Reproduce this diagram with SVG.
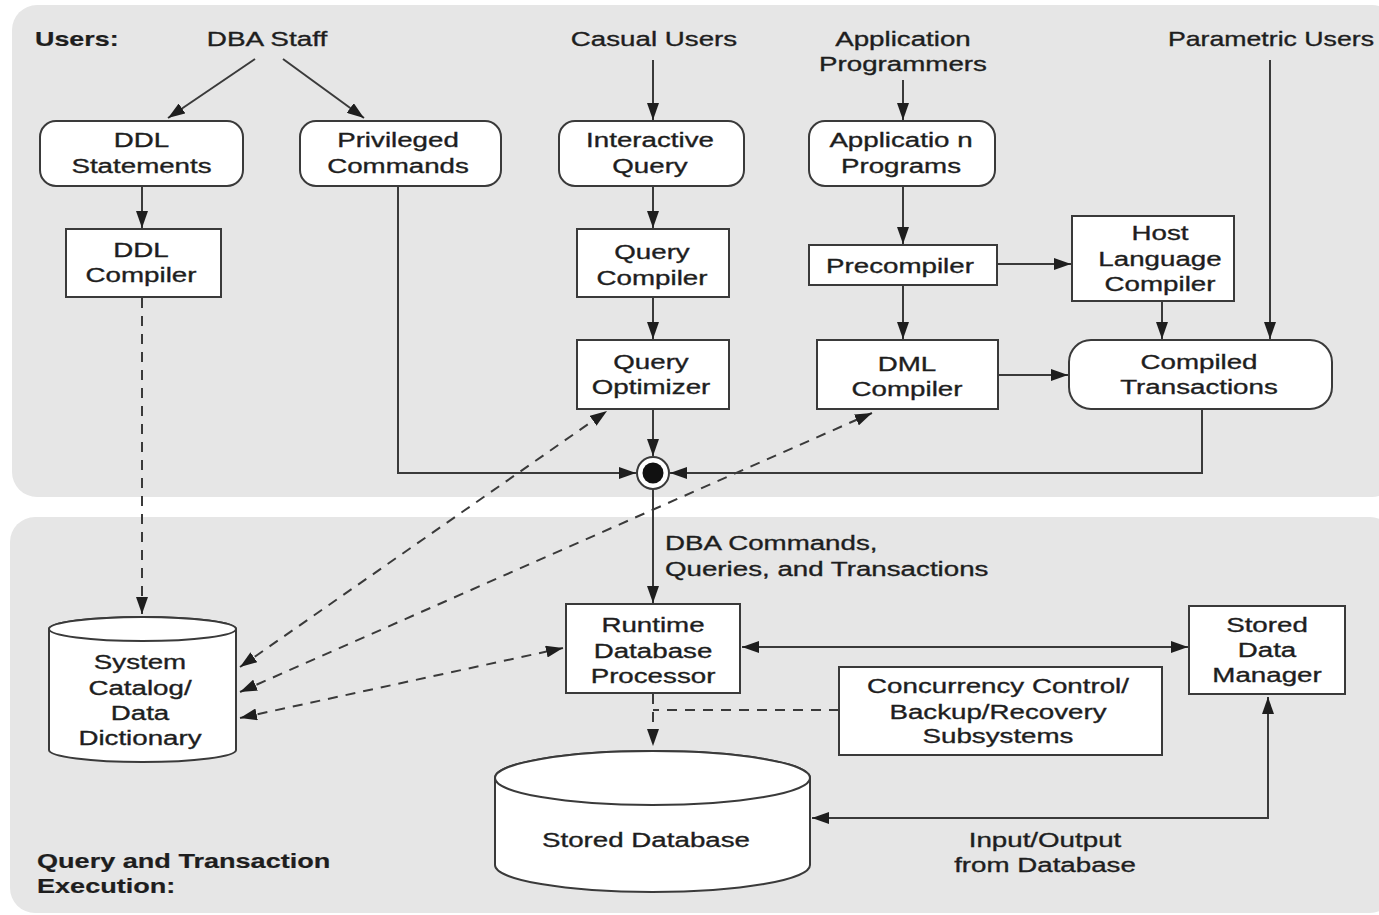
<svg xmlns="http://www.w3.org/2000/svg" width="1379" height="915" viewBox="0 0 1379 915">
<defs>
<style>
.panel{fill:#e6e6e6}
.box{fill:#fff;stroke:#3a3a3a;stroke-width:2}
.ln{fill:none;stroke:#3a3a3a;stroke-width:2}
.dash{fill:none;stroke:#3a3a3a;stroke-width:2;stroke-dasharray:10 8}
.t{font-family:"Liberation Sans",Arial,Helvetica,sans-serif;font-size:21px;fill:#1e1e1e;stroke:#1e1e1e;stroke-width:0.35px;text-anchor:middle}
.l{text-anchor:start}
.b{font-weight:bold;stroke-width:0.2px}
</style>
<marker id="ah" viewBox="0 0 17 12" markerWidth="17" markerHeight="12" refX="17" refY="6" orient="auto-start-reverse" markerUnits="userSpaceOnUse"><path d="M0,0 L17,6 L0,12 z" fill="#1e1e1e"/></marker>
</defs>
<rect width="1379" height="915" fill="#fff"/>
<g id="panels">
<rect class="panel" x="12" y="5" width="1385" height="492" rx="25"/>
<rect class="panel" x="10" y="517" width="1385" height="396" rx="25"/>
</g>
<g id="labels">
<text class="t l b" transform="matrix(1.28 0 0 1 35 46)">Users:</text>
<text class="t" transform="matrix(1.33 0 0 1 267 46)">DBA Staff</text>
<text class="t" transform="matrix(1.32 0 0 1 654 46)">Casual Users</text>
<text class="t" transform="matrix(1.32 0 0 1 903 46)"><tspan x="0" y="0">Application</tspan><tspan x="0" y="25">Programmers</tspan></text>
<text class="t l" transform="matrix(1.27 0 0 1 1168 46)">Parametric Users</text>
<text class="t l" transform="matrix(1.32 0 0 1 665 550)"><tspan x="0" y="0">DBA Commands,</tspan><tspan x="0" y="26">Queries, and Transactions</tspan></text>
<text class="t" transform="matrix(1.32 0 0 1 1045 847)"><tspan x="0" y="0">Input/Output</tspan><tspan x="0" y="25">from Database</tspan></text>
<text class="t l b" transform="matrix(1.29 0 0 1 37 868)"><tspan x="0" y="0">Query and Transaction</tspan><tspan x="0" y="25">Execution:</tspan></text>
</g>
<g id="connectors">
<line class="ln" x1="255" y1="59" x2="168" y2="118" marker-end="url(#ah)"/>
<line class="ln" x1="283" y1="59" x2="364" y2="118" marker-end="url(#ah)"/>
<line class="ln" x1="653" y1="60" x2="653" y2="120" marker-end="url(#ah)"/>
<line class="ln" x1="903" y1="80" x2="903" y2="120" marker-end="url(#ah)"/>
<line class="ln" x1="142" y1="186" x2="142" y2="228" marker-end="url(#ah)"/>
<line class="ln" x1="653" y1="186" x2="653" y2="228" marker-end="url(#ah)"/>
<line class="ln" x1="653" y1="297" x2="653" y2="339" marker-end="url(#ah)"/>
<line class="ln" x1="653" y1="409" x2="653" y2="456" marker-end="url(#ah)"/>
<polyline class="ln" points="398,186 398,473 636,473" marker-end="url(#ah)"/>
<polyline class="ln" points="1202,409 1202,473 670,473" marker-end="url(#ah)"/>
<line class="ln" x1="903" y1="186" x2="903" y2="244" marker-end="url(#ah)"/>
<line class="ln" x1="997" y1="264" x2="1071" y2="264" marker-end="url(#ah)"/>
<line class="ln" x1="903" y1="285" x2="903" y2="339" marker-end="url(#ah)"/>
<line class="ln" x1="1162" y1="301" x2="1162" y2="339" marker-end="url(#ah)"/>
<line class="ln" x1="1270" y1="60" x2="1270" y2="339" marker-end="url(#ah)"/>
<line class="ln" x1="998" y1="375" x2="1068" y2="375" marker-end="url(#ah)"/>
<line class="ln" x1="653" y1="489" x2="653" y2="603" marker-end="url(#ah)"/>
<line class="ln" x1="742" y1="647" x2="1188" y2="647" marker-start="url(#ah)" marker-end="url(#ah)"/>
<polyline class="ln" points="1268,697 1268,818 812,818" marker-start="url(#ah)" marker-end="url(#ah)"/>
<line class="dash" x1="142" y1="298" x2="142" y2="614" marker-end="url(#ah)"/>
<line class="dash" x1="240" y1="667" x2="607" y2="411" marker-start="url(#ah)" marker-end="url(#ah)"/>
<line class="dash" x1="240" y1="692" x2="872" y2="413" marker-start="url(#ah)" marker-end="url(#ah)"/>
<line class="dash" x1="240" y1="718" x2="563" y2="648" marker-start="url(#ah)" marker-end="url(#ah)"/>
<polyline class="dash" points="839,710 653,710"/>
<line class="dash" x1="653" y1="694" x2="653" y2="746" marker-end="url(#ah)"/>
</g>
<g id="junction">
<circle cx="653" cy="473" r="16" fill="#fff" stroke="#3a3a3a" stroke-width="2"/>
<circle cx="653" cy="473" r="10.5" fill="#111"/>
</g>
<g id="ddl-statements">
<rect class="box" x="40" y="121" width="203" height="65" rx="16"/>
<text class="t" transform="matrix(1.32 0 0 1 141.5 147)"><tspan x="0" y="0">DDL</tspan><tspan x="0" y="26">Statements</tspan></text>
</g>
<g id="privileged-commands">
<rect class="box" x="300" y="121" width="201" height="65" rx="16"/>
<text class="t" transform="matrix(1.32 0 0 1 398 147)"><tspan x="0" y="0">Privileged</tspan><tspan x="0" y="26">Commands</tspan></text>
</g>
<g id="interactive-query">
<rect class="box" x="559" y="121" width="185" height="65" rx="16"/>
<text class="t" transform="matrix(1.32 0 0 1 650 147)"><tspan x="0" y="0">Interactive</tspan><tspan x="0" y="26">Query</tspan></text>
</g>
<g id="application-programs">
<rect class="box" x="809" y="121" width="186" height="65" rx="16"/>
<text class="t" transform="matrix(1.32 0 0 1 901 147)"><tspan x="0" y="0">Applicatio n</tspan><tspan x="0" y="26">Programs</tspan></text>
</g>
<g id="ddl-compiler">
<rect class="box" x="66" y="229" width="155" height="68"/>
<text class="t" transform="matrix(1.32 0 0 1 141 257)"><tspan x="0" y="0">DDL</tspan><tspan x="0" y="25">Compiler</tspan></text>
</g>
<g id="query-compiler">
<rect class="box" x="577" y="229" width="152" height="68"/>
<text class="t" transform="matrix(1.32 0 0 1 652 259)"><tspan x="0" y="0">Query</tspan><tspan x="0" y="26">Compiler</tspan></text>
</g>
<g id="precompiler">
<rect class="box" x="809" y="245" width="188" height="40"/>
<text class="t" transform="matrix(1.32 0 0 1 900 273)">Precompiler</text>
</g>
<g id="host-language-compiler">
<rect class="box" x="1072" y="216" width="162" height="85"/>
<text class="t" transform="matrix(1.32 0 0 1 1160 240)"><tspan x="0" y="0">Host</tspan><tspan x="0" y="26">Language</tspan><tspan x="0" y="51">Compiler</tspan></text>
</g>
<g id="query-optimizer">
<rect class="box" x="577" y="340" width="152" height="69"/>
<text class="t" transform="matrix(1.32 0 0 1 651 369)"><tspan x="0" y="0">Query</tspan><tspan x="0" y="25">Optimizer</tspan></text>
</g>
<g id="dml-compiler">
<rect class="box" x="817" y="340" width="181" height="69"/>
<text class="t" transform="matrix(1.32 0 0 1 907 371)"><tspan x="0" y="0">DML</tspan><tspan x="0" y="25">Compiler</tspan></text>
</g>
<g id="compiled-transactions">
<rect class="box" x="1069" y="340" width="263" height="69" rx="22"/>
<text class="t" transform="matrix(1.32 0 0 1 1199 369)"><tspan x="0" y="0">Compiled</tspan><tspan x="0" y="25">Transactions</tspan></text>
</g>
<g id="runtime-database-processor">
<rect class="box" x="566" y="604" width="174" height="89"/>
<text class="t" transform="matrix(1.32 0 0 1 653 632)"><tspan x="0" y="0">Runtime</tspan><tspan x="0" y="26">Database</tspan><tspan x="0" y="51">Processor</tspan></text>
</g>
<g id="stored-data-manager">
<rect class="box" x="1189" y="606" width="156" height="88"/>
<text class="t" transform="matrix(1.32 0 0 1 1267 632)"><tspan x="0" y="0">Stored</tspan><tspan x="0" y="25">Data</tspan><tspan x="0" y="50">Manager</tspan></text>
</g>
<g id="concurrency-control">
<rect class="box" x="839" y="667" width="323" height="88"/>
<text class="t" transform="matrix(1.32 0 0 1 998 693)"><tspan x="0" y="0">Concurrency Control/</tspan><tspan x="0" y="26">Backup/Recovery</tspan><tspan x="0" y="50">Subsystems</tspan></text>
</g>
<g id="system-catalog">
<path class="box" d="M49,629 L49,750 A93.5,12 0 0 0 236,750 L236,629 A93.5,12 0 0 0 49,629 Z"/>
<ellipse class="box" cx="142.5" cy="629" rx="93.5" ry="12"/>
<text class="t" transform="matrix(1.32 0 0 1 140 669)"><tspan x="0" y="0">System</tspan><tspan x="0" y="26">Catalog/</tspan><tspan x="0" y="51">Data</tspan><tspan x="0" y="76">Dictionary</tspan></text>
</g>
<g id="stored-database">
<path class="box" d="M495,778 L495,865 A157.5,27 0 0 0 810,865 L810,778 A157.5,27 0 0 0 495,778 Z"/>
<ellipse class="box" cx="652.5" cy="778" rx="157.5" ry="27"/>
<text class="t" transform="matrix(1.32 0 0 1 646 847)">Stored Database</text>
</g>
</svg>
